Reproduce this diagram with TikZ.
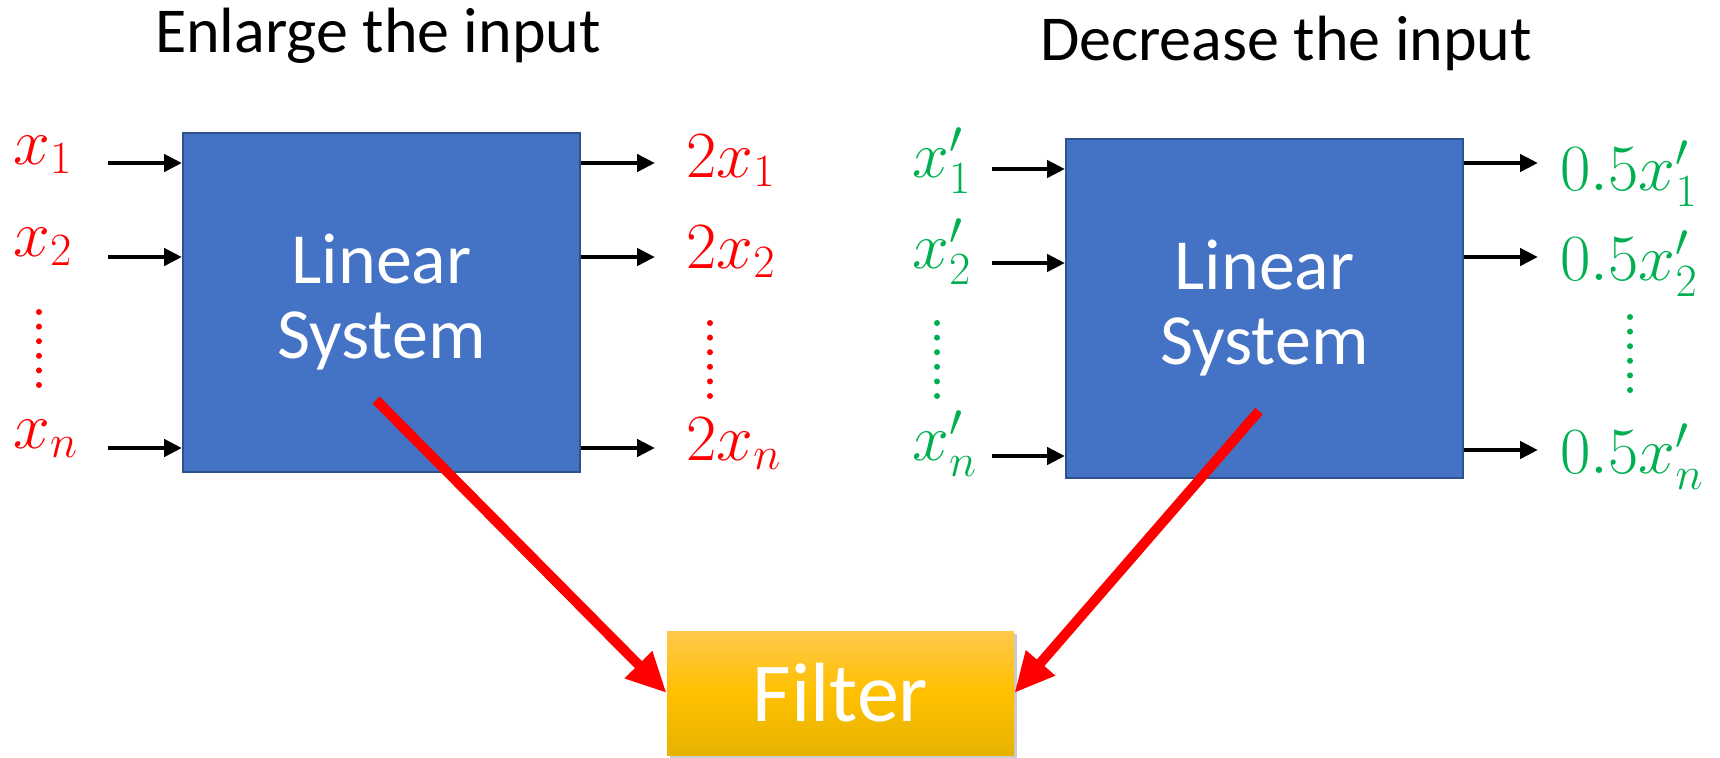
\RequirePackage{fix-cm}
\documentclass[tikz,border=0pt]{standalone}
\usepackage{fontspec}
\setmainfont{Carlito}
\usetikzlibrary{arrows.meta,shadows}
\definecolor{boxblue}{HTML}{4472C4}
\definecolor{boxedge}{HTML}{2F528F}
\definecolor{pgreen}{HTML}{00B050}
\definecolor{pred}{HTML}{FF0000}
\definecolor{goldtop}{HTML}{FFC84A}
\definecolor{goldmid}{HTML}{FFC000}
\definecolor{goldbot}{HTML}{E6B200}
\begin{document}
\begin{tikzpicture}[x=0.5pt,y=-0.5pt,
  sysbox/.style={draw=boxedge, line width=1pt, fill=boxblue, minimum width=198.5pt,
    minimum height=169.5pt, inner sep=0pt, text=white, align=center,
    font=\fontsize{36}{37.5}\selectfont},
  filterbox/.style={minimum width=173.5pt, minimum height=62pt, inner sep=0pt,
    top color=goldtop, bottom color=goldbot, middle color=goldmid, text=white,
    font=\fontsize{42}{50}\selectfont,
    drop shadow={shadow xshift=1.5pt, shadow yshift=-1.5pt, opacity=0.35, fill=black!60}},
  titletext/.style={anchor=base, inner sep=0pt, font=\fontsize{32}{38}\selectfont},
  mlabel/.style={anchor=base west, inner sep=0pt, font=\fontsize{33}{40}\selectfont},
  redlab/.style={mlabel, text=pred},
  greenlab/.style={mlabel, text=pgreen},
  sigarrow/.style={line width=2.3pt, -{Triangle[length=9pt,width=8.5pt]}},
  bigarrow/.style={draw=pred, line width=5pt, -{Triangle[length=20pt,width=18pt]}},
  reddots/.style={draw=pred, line width=3pt, line cap=round, dash pattern=on 0pt off 7.3pt},
  greendots/.style={draw=pgreen, line width=3pt, line cap=round, dash pattern=on 0pt off 7.3pt}
]
\useasboundingbox (0,0) rectangle (1720,757);

% titles
\node[titletext] (t1) at (378,52) {Enlarge the input};
\node[titletext] (t2) at (1286,60) {Decrease the input};

% boxes
\node[sysbox] (L) at (381.5,302.5) {Linear\\System};
\node[sysbox] (R) at (1264.5,308.5) {Linear\\System};
\node[filterbox] (F) at (840.5,693) {Filter};

% left inputs
\node[redlab] (lx1) at (13,164) {$x_1$};
\node[redlab] (lx2) at (13,256) {$x_2$};
\node[redlab] (lxn) at (13,448) {$x_n$};
\draw[reddots] (39,312) -- (39,385);
\coordinate (li1) at (108,163);
\coordinate (li2) at (108,257);
\coordinate (lin) at (108,448);
\draw[sigarrow] (li1) -- (li1 -| L.west);
\draw[sigarrow] (li2) -- (li2 -| L.west);
\draw[sigarrow] (lin) -- (lin -| L.west);

% left outputs
\coordinate (lo1) at (655,163);
\coordinate (lo2) at (655,257);
\coordinate (lon) at (655,448);
\draw[sigarrow] (lo1 -| L.east) -- (lo1);
\draw[sigarrow] (lo2 -| L.east) -- (lo2);
\draw[sigarrow] (lon -| L.east) -- (lon);
\node[redlab] (ly1) at (686,177) {$2x_1$};
\node[redlab] (ly2) at (686,268) {$2x_2$};
\node[redlab] (lyn) at (686,460) {$2x_n$};
\draw[reddots] (710,323) -- (710,396);

% right inputs
\node[greenlab] (rx1) at (912,177) {$x'_1$};
\node[greenlab] (rx2) at (912,268) {$x'_2$};
\node[greenlab] (rxn) at (912,460) {$x'_n$};
\draw[greendots] (937,323) -- (937,396);
\coordinate (ri1) at (992,169);
\coordinate (ri2) at (992,263);
\coordinate (rin) at (992,456);
\draw[sigarrow] (ri1) -- (ri1 -| R.west);
\draw[sigarrow] (ri2) -- (ri2 -| R.west);
\draw[sigarrow] (rin) -- (rin -| R.west);

% right outputs
\coordinate (ro1) at (1538,163);
\coordinate (ro2) at (1538,257);
\coordinate (ron) at (1538,450);
\draw[sigarrow] (ro1 -| R.east) -- (ro1);
\draw[sigarrow] (ro2 -| R.east) -- (ro2);
\draw[sigarrow] (ron -| R.east) -- (ron);
\node[greenlab] (ry1) at (1560,190) {$0.5x'_1$};
\node[greenlab] (ry2) at (1560,280) {$0.5x'_2$};
\node[greenlab] (ryn) at (1560,473) {$0.5x'_n$};
\draw[greendots] (1630,317) -- (1630,390);

% big red arrows
\coordinate (s1) at (376,400);
\coordinate (s2) at (1259,411);
\draw[bigarrow] (s1) -- (F.west);
\draw[bigarrow] (s2) -- (F.east);
\end{tikzpicture}
\end{document}
